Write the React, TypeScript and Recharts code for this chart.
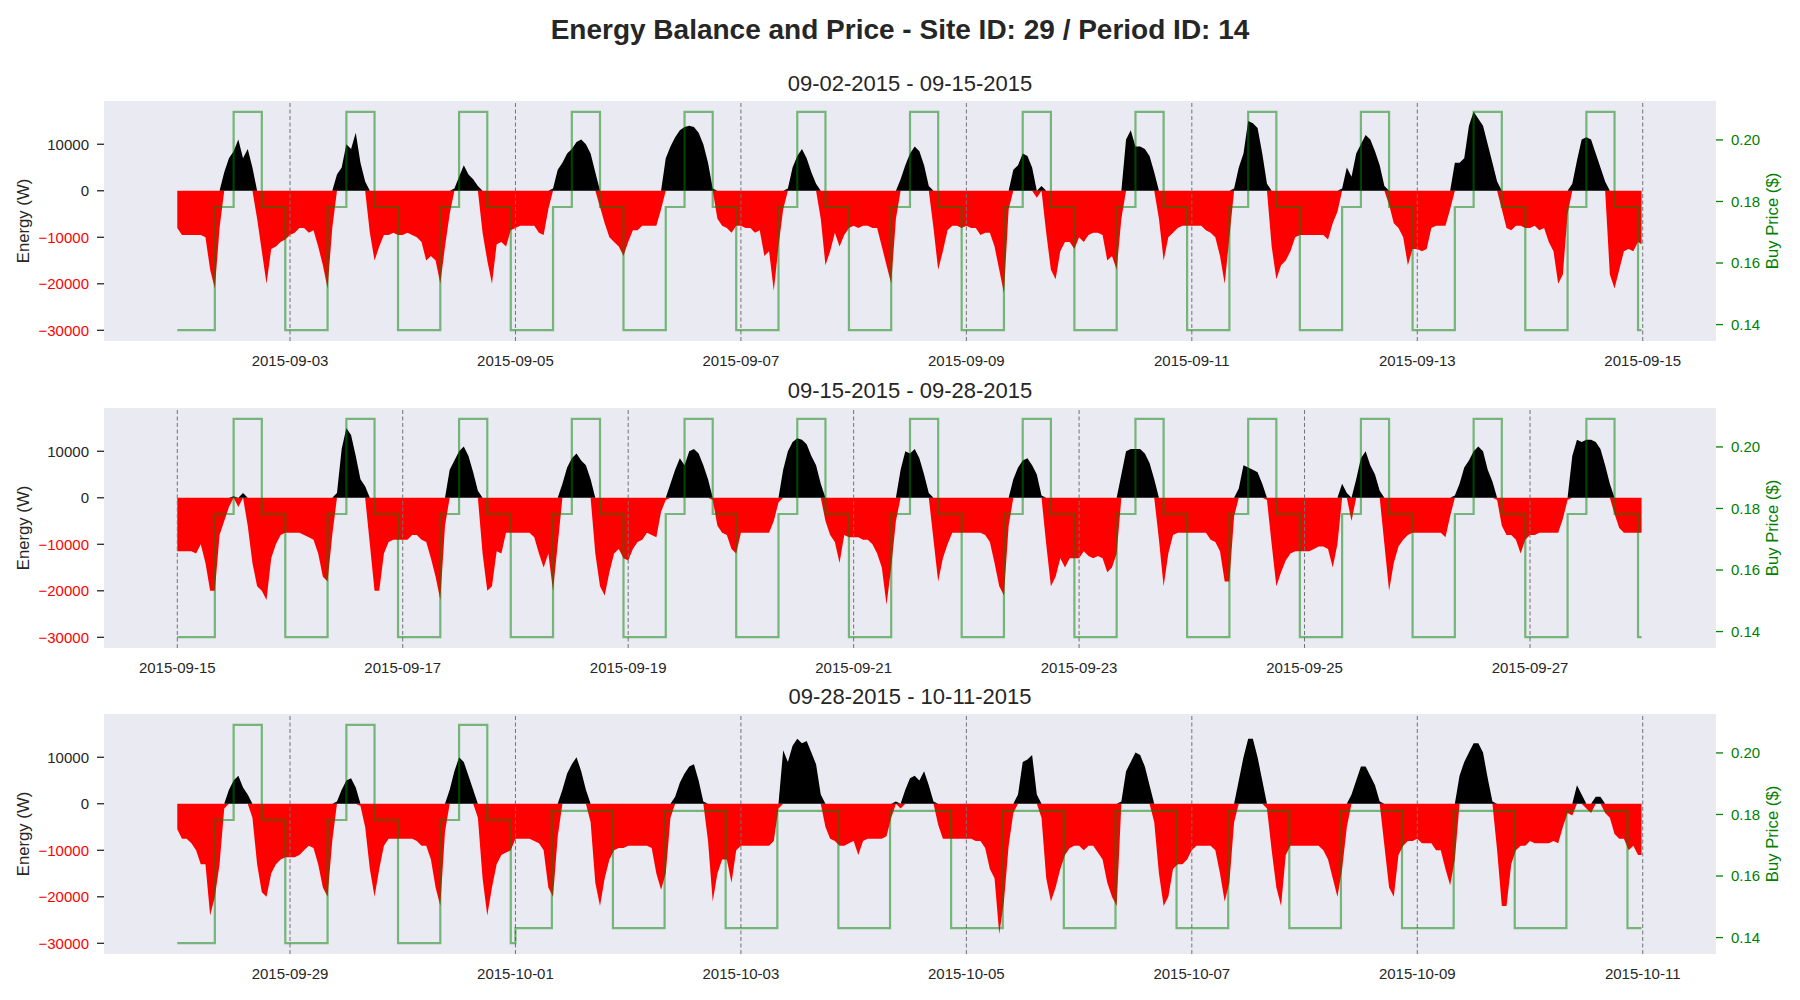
import React from 'react';
import { ComposedChart, Area, Line, XAxis, YAxis, CartesianGrid, ReferenceLine } from 'recharts';

// hourly net energy readings (W), one row per day, 00:00 .. 23:00
const energySep02 = [
  -8000, -9500, -9500, -9500, -9500, -9500, -10000, -17000, -21000, -8000, 4000, 7000, 8500, 11000, 7000, 9000, 5000, -6000, -13000, -20000, -12500, -12000, -11000, -10500,
  -9500, -9000, -8000, -8000, -9000, -8500, -12000, -16000, -21000, -8000, 3500, 5000, 10000, 9000, 12500, 6000, 2000, -9000, -15000, -12000, -9500, -9500, -9000, -9500,
  -9500, -9000, -9500, -10000, -11000, -15000, -14000, -15000, -20000, -12000, -5000, 500, 3000, 5500, 3500, 2500, 1000, -9000, -15000, -20000, -11500, -11000, -12000, -8500,
  -8000, -7500, -7500, -7500, -7500, -9000, -9500, -4000, 500, 4500, 6000, 8000, 9000, 10500, 11000, 10000, 8000, 4000, -3500, -7000, -10000, -11000, -12000, -14000,
  -11000, -8500, -8500, -7500, -7500, -7500, -7500, -4000, 7000, 9500, 11500, 13000, 13700, 14000, 13700, 12500, 10000, 6000, 500, -6000, -7500, -8000, -9000, -7500,
  -7500, -8000, -8000, -9000, -8500, -14000, -13000, -21500, -12000, -4000, 500, 5000, 7500, 9000, 7000, 4000, 1500, -6000, -16000, -13000, -9000, -12000, -9500, -8000,
  -7500, -8000, -7500, -7500, -8000, -8000, -12000, -16000, -20000, -6000, 2500, 5500, 8000, 9500, 8500, 5500, 1000, -8000, -17000, -13000, -8500, -7500, -7500, -8000,
  -7500, -8000, -8000, -9500, -9000, -9000, -12000, -17000, -22000, -4000, 4500, 5500, 8000, 7500, 5000, -1500, 1000, -9000, -17000, -19000, -13000, -11000, -11000, -12500,
  -10000, -11000, -9500, -9000, -9000, -9500, -15000, -14000, -17000, -6000, 11000, 13000, 9500, 9500, 9000, 7500, 4000, -6000, -15000, -10000, -9000, -8000, -7500, -7500,
  -7500, -7500, -7500, -8500, -9000, -10000, -14000, -20000, -10000, 500, 5000, 8000, 15000, 14500, 13500, 8000, 1500, -12000, -19000, -16000, -15000, -13000, -10000, -9500,
  -9500, -9500, -9500, -9500, -9500, -10500, -7000, -4500, 500, 5000, 3000, 8000, 10000, 12000, 11000, 8500, 5500, 1000, -3000, -7000, -8000, -10000, -16000, -12500,
  -12500, -13000, -12500, -8000, -7500, -7500, -7500, -4000, 6000, 6000, 7000, 14000, 17000, 15500, 14000, 10000, 6000, 2000, -4000, -8000, -8500, -7500, -7500, -8000,
  -8000, -7500, -8500, -8000, -11000, -13000, -20000, -18000, -5000, 1500, 6500, 11000, 11500, 11000, 8000, 5000, 2000, -18000, -21000, -17000, -13000, -12500, -13000, -11000,
];

const energySep15 = [
  -11500, -11500, -11500, -11500, -12000, -10000, -14000, -20000, -20000, -8000, -5000, -2000, 300, -2000, 1000, -6000, -14000, -19000, -20000, -22000, -13000, -10000, -8000, -7500,
  -7500, -7500, -7500, -8000, -8500, -9000, -12000, -17000, -18000, -8000, 1000, 10500, 15000, 13500, 9000, 4000, 2500, -10000, -20000, -20000, -12000, -9500, -9000, -9000,
  -9000, -9000, -8000, -8000, -9000, -9500, -13000, -17000, -22000, -6000, 6000, 8000, 10000, 11000, 9000, 5500, 1500, -12000, -20000, -19000, -11500, -12000, -7500, -7500,
  -7500, -7500, -7500, -7500, -8500, -12000, -15000, -12000, -20000, -10000, 3000, 6500, 8500, 9500, 8000, 7000, 4000, -12000, -19000, -21000, -16000, -12000, -11000, -13000,
  -13500, -11000, -9500, -9000, -7500, -8000, -8500, -3000, -500, 3000, 6000, 8500, 7000, 10000, 10500, 9500, 7000, 4000, -500, -6000, -7500, -8000, -11000, -12000,
  -7500, -7500, -7500, -7500, -7500, -7500, -7500, -5000, -1000, 6000, 10000, 12000, 12800, 12500, 11500, 9000, 7000, 3000, -5000, -8000, -9500, -14000, -8000, -8500,
  -8500, -8500, -9000, -9000, -10000, -12000, -15000, -23000, -15000, -5000, 6000, 10000, 9500, 10500, 8500, 5000, 1000, -9000, -18000, -13000, -10000, -7500, -7500, -7500,
  -7500, -7500, -7500, -7500, -8000, -9500, -14000, -19000, -21000, -6000, 4000, 6500, 8000, 8500, 7000, 5000, 500, -10000, -19000, -17000, -13000, -15000, -13000, -13000,
  -13000, -11500, -12500, -13000, -12500, -13000, -16000, -15000, -12000, 5000, 10000, 10500, 10500, 10500, 9500, 7500, 4000, -9000, -19000, -12000, -8000, -7500, -7500, -7500,
  -7500, -7500, -7500, -7500, -9000, -9500, -11500, -18000, -18000, -4000, 2000, 7000, 6500, 6000, 5500, 3000, -500, -10000, -19000, -16000, -13500, -12000, -11500, -11500,
  -11500, -11500, -11000, -10500, -10500, -11000, -15000, -10000, 3000, 1000, -5000, 4000, 8500, 10000, 7000, 5000, 1500, -10000, -20000, -14000, -10500, -9000, -8000, -7500,
  -7500, -7500, -7500, -7500, -7500, -7500, -8500, -4000, 500, 3000, 6500, 8000, 10000, 11000, 10000, 6000, 3500, -500, -6000, -8000, -8000, -9000, -12000, -9000,
  -8000, -8000, -7500, -7500, -7500, -7500, -7500, -4500, -500, 9000, 12500, 12000, 12500, 12500, 12000, 10500, 7000, 3000, -3500, -6500, -7500, -7500, -7500, -7500,
];

const energySep28 = [
  -5500, -7500, -7500, -8500, -10000, -13000, -13000, -24000, -20000, -13000, -1000, 3000, 5000, 6000, 3500, 2000, -3000, -13000, -19000, -20000, -15000, -13000, -12000, -11500,
  -11500, -11500, -11000, -10000, -9000, -9500, -13000, -18000, -20000, -8000, 500, 3000, 5000, 5500, 3500, -500, -5000, -14000, -20000, -14000, -9000, -7500, -7500, -7500,
  -7500, -7500, -7500, -8000, -9000, -9000, -12000, -18000, -22000, -6000, 3000, 7000, 10000, 9000, 6000, 3000, -3000, -16000, -24000, -18000, -13000, -11000, -10500, -10000,
  -7500, -7500, -7500, -7500, -8000, -8500, -10000, -18000, -20000, -7000, 3000, 6500, 8500, 10000, 7000, 3000, -4000, -17000, -22000, -16000, -12000, -10000, -9500, -9500,
  -9000, -9000, -9000, -9000, -9000, -9500, -15000, -18500, -15000, -3000, 1500, 4500, 6500, 8000, 8500, 5000, 500, -8000, -21000, -15000, -12000, -12000, -17000, -10000,
  -9000, -9000, -9000, -9000, -9000, -9000, -9000, -8000, -1000, 11500, 9000, 12500, 14000, 13000, 13500, 11000, 8500, 2000, -5000, -7500, -8000, -9000, -9000, -8500,
  -8000, -11000, -8000, -7500, -7500, -7500, -7500, -7000, -3000, 500, -1000, 3000, 5500, 6000, 5000, 7000, 4000, 500, -4500, -7500, -7500, -7500, -7500, -7500,
  -7500, -7500, -8000, -8000, -9500, -14000, -16000, -28000, -21000, -9000, -2000, 2000, 9000, 9500, 10500, 2000, -3000, -16000, -21000, -18000, -14000, -11000, -9500, -9000,
  -9000, -10000, -9000, -9000, -10500, -12000, -17000, -20000, -22000, 500, 7000, 9000, 11000, 10500, 8000, 4000, -4000, -15000, -22000, -20000, -14000, -13000, -13000, -12000,
  -10000, -9000, -9000, -9000, -9000, -10000, -15000, -21000, -17000, -4000, 5000, 10000, 14000, 14000, 10000, 5000, -1000, -10000, -18000, -22000, -11000, -9000, -9000, -9000,
  -9000, -9000, -9000, -9000, -10000, -12000, -16000, -20000, -14000, -5000, 2000, 5000, 8000, 8000, 6000, 4000, 500, -9000, -18000, -20000, -11000, -9000, -8000, -8000,
  -7500, -8500, -8500, -8500, -10000, -10000, -14000, -17500, -12000, 6000, 9000, 11000, 13000, 13000, 11000, 5500, 500, -10000, -22000, -22000, -13000, -10000, -9000, -9000,
  -8000, -8500, -8500, -8500, -8500, -8000, -8500, -5000, -2000, -2500, 4000, 2000, -1000, -2000, 1500, 1500, -2000, -3000, -6500, -7500, -7500, -10000, -9000, -11000,
];

// last reading of each period, at 23:45 of the final day
const panelEndReadings = [-11500, -7500, -11000];

// buy price schedule: [hour the rate starts, $/kWh]
const summerTariff = [[0, 0.1382], [8, 0.1782], [12, 0.2091], [18, 0.1782], [23, 0.1382]];
const winterTariff = [[0, 0.1431], [7.75, 0.1812], [20.75, 0.1431]];
const winterStart = '2015-10-01';

const panelStarts = ['2015-09-02', '2015-09-15', '2015-09-28'];
const panelTitles = ['09-02-2015 - 09-15-2015', '09-15-2015 - 09-28-2015', '09-28-2015 - 10-11-2015'];
const panelEnergy = [energySep02, energySep15, energySep28];
const panelTickLabels = [
  ['2015-09-03', '2015-09-05', '2015-09-07', '2015-09-09', '2015-09-11', '2015-09-13', '2015-09-15'],
  ['2015-09-15', '2015-09-17', '2015-09-19', '2015-09-21', '2015-09-23', '2015-09-25', '2015-09-27'],
  ['2015-09-29', '2015-10-01', '2015-10-03', '2015-10-05', '2015-10-07', '2015-10-09', '2015-10-11'],
];
const energyTicks = [-30000, -20000, -10000, 0, 10000];
const priceTicks = [0.14, 0.16, 0.18, 0.2];

const DAY = 86400000;
const DAYS = 13;
const LAST_T = DAYS - 1 + 23.75 / 24;
const plotTops = [101, 408, 714];
const TEXT = '#262626';

const split = (t: number, v: number) => ({ t, pos: v > 0 ? v : 0, neg: v < 0 ? v : 0 });

const energyRows = (values: number[], endValue: number) => [
  ...values.map((v, i) => split(i / 24, v)),
  split(LAST_T, endValue),
];

const priceRows = (start: string) => {
  const rows: { t: number; price: number }[] = [];
  for (let d = 0; d < DAYS; d++) {
    const tariff = Date.parse(start) + d * DAY >= Date.parse(winterStart) ? winterTariff : summerTariff;
    tariff.forEach(([h, p]) => rows.push({ t: d + h / 24, price: p }));
  }
  rows.push({ t: LAST_T, price: rows[rows.length - 1].price });
  return rows;
};

const fmtEnergy = (v: number) => (v < 0 ? '\u2212' + Math.abs(v) : String(v));

const EnergyTick = (props: any) => {
  const { x, y, payload } = props;
  return (
    <text x={x} y={y} dy="0.35em" textAnchor="end" fontSize={15} fill={payload.value < 0 ? '#ff0000' : TEXT}>
      {fmtEnergy(payload.value)}
    </text>
  );
};

const PriceTick = (props: any) => {
  const { x, y, payload } = props;
  return (
    <text x={x} y={y} dy="0.35em" textAnchor="start" fontSize={15} fill="#008000">
      {payload.value.toFixed(2)}
    </text>
  );
};

const Panel = ({ idx }: { idx: number }) => {
  const start = panelStarts[idx];
  const rows = energyRows(panelEnergy[idx], panelEndReadings[idx]);
  const prices = priceRows(start);
  const tickPos = panelTickLabels[idx].map((l) => Math.round((Date.parse(l) - Date.parse(start)) / DAY));
  const labelAt = (t: number) => panelTickLabels[idx][tickPos.indexOf(Math.round(t))] ?? '';
  const DateTick = (props: any) => (
    <text x={props.x} y={props.y + 25} textAnchor="middle" fontSize={15} fill={TEXT}>
      {labelAt(props.payload.value)}
    </text>
  );
  const top = plotTops[idx];
  const midY = top + 120;

  return (
    <>
      <div style={{ position: 'absolute', left: 910, top: top - 27.6, transform: 'translateX(-50%)', fontSize: 22, lineHeight: '22px', color: TEXT, whiteSpace: 'nowrap' }}>
        {panelTitles[idx]}
      </div>
      <div style={{ position: 'absolute', left: 24, top: midY, transform: 'translate(-50%, -50%) rotate(-90deg)', fontSize: 16.7, color: TEXT, whiteSpace: 'nowrap' }}>
        Energy (W)
      </div>
      <div style={{ position: 'absolute', left: 1773, top: midY, transform: 'translate(-50%, -50%) rotate(-90deg)', fontSize: 16.7, color: '#008000', whiteSpace: 'nowrap' }}>
        Buy Price ($)
      </div>
      <div style={{ position: 'absolute', left: 0, top: top - 20 }}>
        <ComposedChart width={1800} height={300} data={rows} margin={{ top: 20, right: 24, bottom: 0, left: 44 }}>
          <CartesianGrid yAxisId="energy" horizontal={false} vertical={false} fill="#EAEAF2" />
          <XAxis
            dataKey="t"
            type="number"
            domain={[-0.65, 13.65]}
            allowDataOverflow
            ticks={tickPos}
            interval={0}
            height={40}
            tickSize={0}
            tickMargin={0}
            tickLine={false}
            axisLine={false}
            tick={<DateTick />}
          />
          <YAxis
            yAxisId="energy"
            domain={[-32300, 19300]}
            allowDataOverflow
            ticks={energyTicks}
            interval={0}
            width={60}
            tickSize={7}
            tickMargin={8}
            axisLine={false}
            tickLine={{ stroke: TEXT, strokeWidth: 1.3 }}
            tick={<EnergyTick />}
          />
          <YAxis
            yAxisId="price"
            orientation="right"
            domain={[0.13466, 0.21265]}
            allowDataOverflow
            ticks={priceTicks}
            interval={0}
            width={60}
            tickSize={7}
            tickMargin={8}
            axisLine={false}
            tickLine={{ stroke: '#008000', strokeWidth: 1.3 }}
            tick={<PriceTick />}
          />
          <Area yAxisId="energy" dataKey="neg" type="linear" baseValue={0} fill="#ff0000" fillOpacity={1} stroke="none" isAnimationActive={false} />
          <Area yAxisId="energy" dataKey="pos" type="linear" baseValue={0} fill="#000000" fillOpacity={1} stroke="none" isAnimationActive={false} />
          {tickPos.map((p) => (
            <ReferenceLine key={p} yAxisId="energy" x={p} stroke="#737373" strokeWidth={1} strokeDasharray="4 2.5" />
          ))}
          <Line
            yAxisId="price"
            data={prices}
            dataKey="price"
            type="stepAfter"
            stroke="#008000"
            strokeOpacity={0.5}
            strokeWidth={2.2}
            dot={false}
            isAnimationActive={false}
          />
        </ComposedChart>
      </div>
    </>
  );
};

export default function App() {
  return (
    <div style={{ position: 'absolute', left: 0, top: 0, width: 1800, height: 1000, background: '#fff', fontFamily: '"Liberation Sans", Arial, sans-serif' }}>
      <div style={{ position: 'absolute', left: 900, top: 16, transform: 'translateX(-50%)', fontSize: 28, lineHeight: '28px', fontWeight: 'bold', color: TEXT, whiteSpace: 'nowrap' }}>
        Energy Balance and Price - Site ID: 29 / Period ID: 14
      </div>
      {[0, 1, 2].map((i) => (
        <Panel key={i} idx={i} />
      ))}
    </div>
  );
}
